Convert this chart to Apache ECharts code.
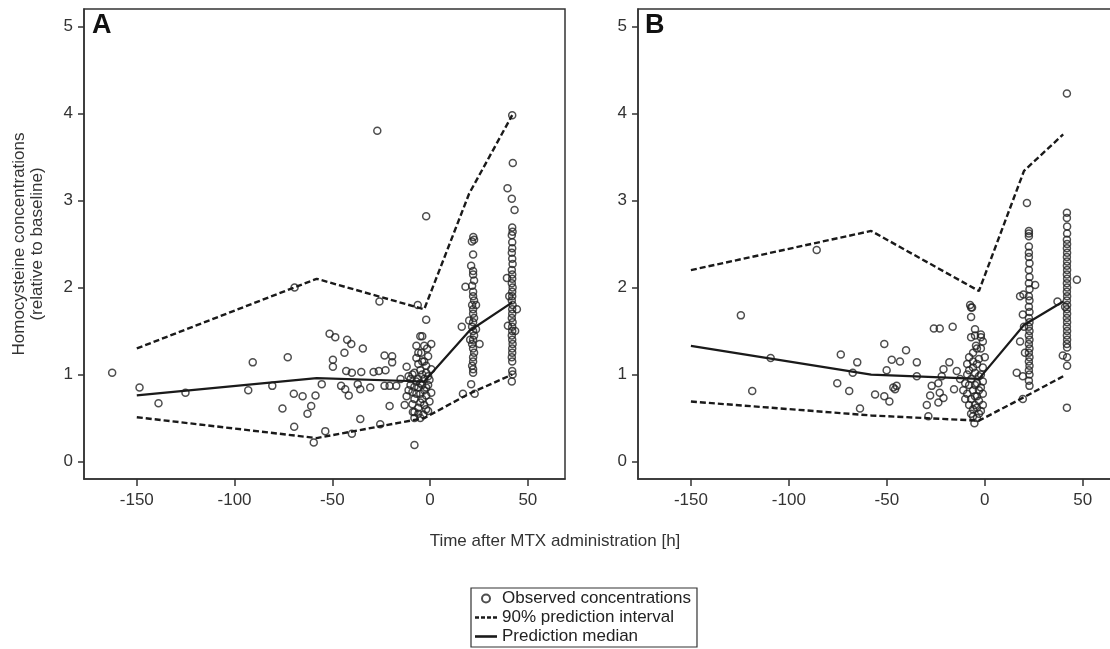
<!DOCTYPE html>
<html>
<head>
<meta charset="utf-8">
<script src="https://cdn.jsdelivr.net/npm/echarts@6/dist/echarts.min.js"></script>
<style>
  html, body { margin: 0; background: #fff; }
  #chart { width: 1110px; height: 649px; }
</style>
</head>
<body>
<div id="chart"></div>
<script>
// tick labels
const xTicks = [-150, -100, -50, 0, 50];
const yTicks = [0, 1, 2, 3, 4, 5];

// panel A - prediction lines
const predTimesA = [-150, -58, -3, 20, 42];
const upperA = [1.30, 2.10, 1.75, 3.08, 3.98];
const medianA = [0.76, 0.96, 0.92, 1.50, 1.83];
const lowerA = [0.51, 0.27, 0.50, 0.78, 1.00];

// panel B - prediction lines
const predTimesB = [-150, -58, -3, 20, 40];
const upperB = [2.20, 2.65, 1.96, 3.34, 3.76];
const medianB = [1.33, 1.00, 0.95, 1.57, 1.84];
const lowerB = [0.69, 0.53, 0.47, 0.74, 0.98];

// panel A - observed (time, relative conc.)
const obsA = [
  [-162.6,1.02],[-148.6,0.85],[-138.9,0.67],[-125.1,0.79],[-93,0.82],[-90.7,1.14],[-80.7,0.87],
  [-72.8,1.2],[-69.3,2.0],[-75.5,0.61],[-69.7,0.78],[-65.2,0.75],[-58.6,0.76],[-60.8,0.64],
  [-62.7,0.55],[-69.5,0.4],[-59.5,0.22],[-55.4,0.89],[-53.6,0.35],[-51.4,1.47],[-48.5,1.43],
  [-49.7,1.17],[-49.7,1.09],[-45.5,0.87],[-43.8,1.25],[-42.4,1.4],[-40.3,1.35],[-42.9,1.04],
  [-43.4,0.83],[-41.6,0.76],[-40,1.02],[-40,0.32],[-37,0.89],[-35.7,0.83],[-35.2,1.03],
  [-34.4,1.3],[-35.7,0.49],[-30.6,0.85],[-28.9,1.03],[-26.2,1.04],[-25.5,0.43],[-25.9,1.84],
  [-27,3.8],[-23.3,1.22],[-22.8,1.05],[-23.3,0.87],[-20.7,0.87],[-20.7,0.64],[-19.4,1.21],
  [-19.4,1.14],[-17.3,0.87],[-15.1,0.95],[-2,2.82],
  // cluster just before dosing
  [-12,1.09],[-11,0.98],[-10,0.88],[-9,0.8],[-8,0.72],[-12,0.75],[-13,0.65],[-8,0.57],
  [-7,1.33],[-7,1.19],[-6,1.25],[-5,1.44],[-4,1.44],[-3,1.33],[-4.5,1.25],[-3,1.15],
  [-2,1.1],[-1,1.21],[0.6,1.35],[0.6,1.06],[-0.3,0.94],[0.6,0.79],[-0.3,0.69],[-3.4,0.54],
  [-2,0.6],[-6,0.62],[-5,0.68],[-9,0.66],[-10,0.95],[-8,1.02],[-7,0.92],[-6,0.85],
  [-5,0.78],[-4,0.88],[-3,0.95],[-2,1.02],[-1,0.88],[-5,1.05],[-6,1.12],[-4,0.72],
  [-3,0.82],[-2,0.76],[-1,0.98],[-8,0.86],[-9,1.0],[-7,0.78],[-6,0.95],[-5,0.9],
  [-4,1.0],[-3,0.65],[-1,0.58],[-8,0.5],[-6,0.55],[-5,0.5],[-2,0.85],[-4,1.15],
  [-11,0.82],[-1.5,1.3],[-6.3,1.8],[-2,1.63],[-8,0.19],[-8.8,0.57],
  // ~22 h
  [22.1,2.58],[22.5,2.55],[21.4,2.53],[22,2.38],[22,2.19],[22,2.15],[22.5,2.08],[21.5,2.02],
  [22,1.95],[22,1.9],[22.5,1.85],[21.5,1.8],[22,1.75],[22,1.7],[22.5,1.65],[22,1.6],
  [21.5,1.55],[22,1.5],[22.5,1.45],[22,1.4],[21.5,1.35],[22,1.3],[22.5,1.25],[22,1.2],
  [22,1.15],[21.5,1.1],[22,1.06],[22,1.02],[18.1,2.01],[16.2,1.55],[25.3,1.35],[21,0.89],
  [16.8,0.78],[22.8,0.78],[20,1.62],[23.5,1.52],[20.5,1.4],[23.5,1.8],[21,2.25],
  // ~42 h
  [42,3.98],[42.3,3.43],[39.6,3.14],[41.8,3.02],[43.2,2.89],[42,2.69],[42.2,2.64],[41.8,2.6],
  [42,2.52],[42,2.45],[41.8,2.4],[42,2.33],[42.2,2.27],[41.8,2.2],[42,2.15],[42,2.1],
  [41.8,2.05],[42.2,2.0],[42,1.95],[42,1.9],[41.8,1.85],[42.2,1.8],[42,1.75],[42,1.7],
  [41.8,1.65],[42.2,1.6],[42,1.55],[42,1.5],[41.8,1.45],[42,1.4],[42.2,1.35],[42,1.3],
  [42,1.25],[41.8,1.2],[42,1.15],[42,1.04],[42.2,1.0],[41.8,0.92],[39.3,2.11],[44.4,1.75],
  [39.8,1.56],[40.5,1.9],[43.5,1.5]
];

// panel B - observed
const obsB = [
  [-85.8,2.43],[-124.5,1.68],[-118.7,0.81],[-109.3,1.19],[-73.5,1.23],[-65.1,1.14],[-67.4,1.02],
  [-75.3,0.9],[-69.2,0.81],[-63.7,0.61],[-56,0.77],[-51.3,1.35],[-50.1,1.05],[-51.3,0.75],
  [-48.7,0.69],[-47.5,1.17],[-43.3,1.15],[-40.2,1.28],[-46.7,0.85],[-45,0.87],[-45.8,0.83],
  [-34.7,1.14],[-34.7,0.98],[-28.8,0.52],[-29.6,0.65],[-27.9,0.76],[-27.1,0.87],[-26,1.53],
  [-23,1.53],[-16.4,1.55],[-23.7,0.68],[-23,0.79],[-23.7,0.9],[-22,0.98],[-21.1,1.06],
  [-18.1,1.14],[-21.1,0.73],[-15.7,0.83],[-14.3,1.04],[-12.6,0.95],
  // cluster just before dosing
  [-7.5,1.8],[-7,1.77],[-6.5,1.77],[-7,1.66],[-5,1.52],[-5,1.45],[-2,1.46],[-7,1.43],
  [-2,1.43],[-4.5,1.33],[-4,1.3],[-2,1.3],[-5.3,0.44],[-8,1.2],[-6,1.15],[-3,1.18],
  [-1,1.08],[-9,1.0],[-7,0.95],[-5,1.02],[-3,0.98],[-1,0.92],[-8,0.88],[-6,0.82],
  [-4,0.9],[-2,0.85],[-9,0.78],[-7,0.72],[-5,0.75],[-3,0.7],[-1,0.78],[-8,0.65],
  [-6,0.6],[-4,0.62],[-2,0.58],[-6,0.52],[-4,0.5],[-3,0.55],[-10,0.72],[-10,0.9],
  [-11,0.82],[-6,1.08],[-4,1.12],[-2,1.0],[-8,1.05],[-5,0.88],[-3,0.82],[-7,0.55],
  [-1,0.65],[0,1.2],[-1,1.38],[-6,1.25],[-9,1.12],[-4,0.75],[-5,0.65],
  // ~22 h
  [21.5,2.97],[22.5,2.65],[22.5,2.62],[22.5,2.59],[22.5,2.47],[22.5,2.4],[22.5,2.35],[22.8,2.28],
  [22.5,2.2],[22.8,2.12],[22.5,2.05],[22.8,1.98],[22.5,1.9],[22.8,1.85],[22.5,1.78],[22.8,1.72],
  [22.5,1.65],[22.8,1.6],[22.5,1.55],[22.8,1.5],[22.5,1.45],[22.8,1.4],[22.5,1.35],[22.8,1.3],
  [22.5,1.25],[22.8,1.2],[22.5,1.15],[22.8,1.1],[22.5,1.05],[22.8,1.0],[22.5,0.93],[22.8,0.87],
  [18,1.9],[19.7,1.92],[19.4,1.69],[18,1.38],[16.3,1.02],[19.4,0.98],[19.4,0.72],[25.7,2.03],
  [20,1.55],[20.5,1.25],
  // ~42 h
  [41.9,4.23],[41.9,2.86],[41.9,2.8],[42,2.7],[42,2.62],[41.9,2.55],[42,2.5],[41.9,2.45],
  [42,2.4],[41.9,2.35],[42,2.3],[41.9,2.25],[42,2.2],[41.9,2.15],[42,2.1],[41.9,2.05],
  [42,2.0],[41.9,1.95],[42,1.9],[41.9,1.85],[42,1.8],[41.9,1.75],[42,1.7],[41.9,1.65],
  [42,1.6],[41.9,1.55],[42,1.5],[41.9,1.45],[42,1.4],[41.9,1.35],[42,1.31],[39.8,1.22],
  [42,1.2],[42,1.1],[41.9,0.62],[47,2.09],[37.1,1.84],[41,1.78]
];

const FONT = 'Liberation Sans, Arial, sans-serif';
const INK = '#1a1a1a';

// legend icons drawn as paths so no symbol dot sits on the line
const DASH_ICON = 'path://M0,0h4v2.6h-4zM6,0h4v2.6h-4zM12,0h4v2.6h-4zM18,0h4v2.6h-4z';
const SOLID_ICON = 'path://M0,0h22v2.6h-22z';

function pairs(times, vals) {
  return times.map((t, i) => [t, vals[i]]);
}

function makeX(idx) {
  return {
    type: 'value', gridIndex: idx, min: -177, max: 69,
    axisLine: { show: true, onZero: false, lineStyle: { color: '#333', width: 1.5 } },
    axisTick: { show: true, length: 7, customValues: xTicks, lineStyle: { color: '#333', width: 1.5 } },
    axisLabel: { customValues: xTicks, margin: 13, fontSize: 17, color: '#333', fontFamily: FONT },
    splitLine: { show: false }
  };
}

function makeY(idx, withName) {
  const ax = {
    type: 'value', gridIndex: idx, min: -0.2, max: 5.2,
    axisLine: { show: true, onZero: false, lineStyle: { color: '#333', width: 1.5 } },
    axisTick: { show: true, length: 6, customValues: yTicks, lineStyle: { color: '#333', width: 1.5 } },
    axisLabel: { customValues: yTicks, margin: 11, fontSize: 17, color: '#333', fontFamily: FONT },
    splitLine: { show: false }
  };
  if (withName) {
    ax.name = 'Homocysteine concentrations\n(relative to baseline)';
    ax.nameLocation = 'middle';
    ax.nameRotate = 90;
    ax.nameGap = 38;
    ax.nameTextStyle = { fontSize: 17, lineHeight: 18, color: '#333', fontFamily: FONT };
  }
  return ax;
}

function panelSeries(idx, obs, times, upper, median, lower) {
  const dashed = { color: INK, width: 2.4, type: [6, 3] };
  return [
    {
      name: 'Observed concentrations', type: 'scatter', xAxisIndex: idx, yAxisIndex: idx,
      data: obs, symbol: 'circle', symbolSize: 7,
      itemStyle: { color: 'rgba(0,0,0,0)', borderColor: '#222', borderWidth: 1.5 }
    },
    {
      name: '90% prediction interval', type: 'line', xAxisIndex: idx, yAxisIndex: idx,
      data: pairs(times, upper), symbol: 'none', itemStyle: { color: INK }, lineStyle: dashed, z: 3
    },
    {
      name: '90% prediction interval', type: 'line', xAxisIndex: idx, yAxisIndex: idx,
      data: pairs(times, lower), symbol: 'none', itemStyle: { color: INK }, lineStyle: dashed, z: 3
    },
    {
      name: 'Prediction median', type: 'line', xAxisIndex: idx, yAxisIndex: idx,
      data: pairs(times, median), symbol: 'none', itemStyle: { color: INK },
      lineStyle: { color: INK, width: 2.2 }, z: 3
    }
  ];
}

const chart = echarts.init(document.getElementById('chart'), null, { renderer: 'canvas' });

const option = {
  backgroundColor: '#fff',
  animation: false,
  textStyle: { fontFamily: FONT },
  grid: [
    { left: 84, top: 9, width: 481, height: 470, show: true, borderColor: '#333', borderWidth: 1.5,
      outerBoundsMode: 'none', containLabel: false },
    { left: 638, top: 9, width: 482, height: 470, show: true, borderColor: '#333', borderWidth: 1.5,
      outerBoundsMode: 'none', containLabel: false }
  ],
  xAxis: [makeX(0), makeX(1)],
  yAxis: [makeY(0, true), makeY(1, false)],
  legend: {
    orient: 'vertical', left: 471, top: 588,
    data: [
      { name: 'Observed concentrations' },
      { name: '90% prediction interval', icon: DASH_ICON, itemStyle: { color: INK } },
      { name: 'Prediction median', icon: SOLID_ICON, itemStyle: { color: INK } }
    ],
    itemWidth: 22, itemHeight: 8, itemGap: 2,
    padding: [2, 6, 2, 4],
    borderColor: '#333', borderWidth: 1.2,
    textStyle: { fontSize: 17, color: '#222', fontFamily: FONT },
    selectedMode: false
  },
  graphic: [
    { type: 'text', left: 92, top: 12, style: { text: 'A', font: 'bold 27px ' + FONT, fill: '#111' } },
    { type: 'text', left: 645, top: 12, style: { text: 'B', font: 'bold 27px ' + FONT, fill: '#111' } },
    {
      type: 'text', x: 555, y: 541,
      style: { text: 'Time after MTX administration [h]', font: '17px ' + FONT, fill: '#333',
        textAlign: 'center', textVerticalAlign: 'middle' }
    }
  ],
  series: [
    ...panelSeries(0, obsA, predTimesA, upperA, medianA, lowerA),
    ...panelSeries(1, obsB, predTimesB, upperB, medianB, lowerB)
  ]
};

chart.setOption(option);
</script>
</body>
</html>
